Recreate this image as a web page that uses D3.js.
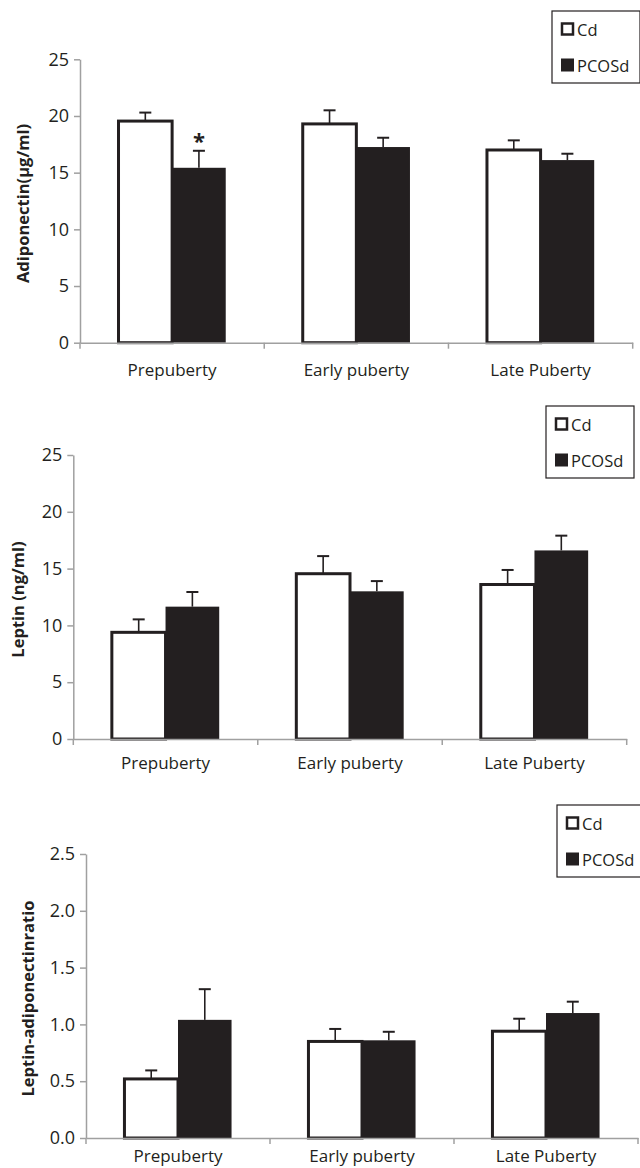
<!DOCTYPE html>
<html>
<head>
<meta charset="utf-8">
<script src="https://cdn.jsdelivr.net/npm/d3@7"></script>
<style>
  body { margin: 0; background: #fff; }
  svg { display: block; }
</style>
</head>
<body>
<div id="chart"></div>
<script>
const categories = ['Prepuberty', 'Early puberty', 'Late Puberty'];
const series = ['Cd', 'PCOSd'];

// adiponectin (µg/ml)
const adipoCd = [19.55, 19.3, 17.0];
const adipoCdErr = [0.75, 1.2, 0.85];
const adipoPcos = [15.43, 17.26, 16.11];
const adipoPcosErr = [1.5, 0.82, 0.56];
const adipoTicks = [0, 5, 10, 15, 20, 25];

// leptin (ng/ml)
const leptinCd = [9.39, 14.55, 13.6];
const leptinCdErr = [1.14, 1.55, 1.28];
const leptinPcos = [11.65, 13.0, 16.6];
const leptinPcosErr = [1.29, 0.9, 1.3];
const leptinTicks = [0, 5, 10, 15, 20, 25];

// leptin-adiponectin ratio
const ratioCd = [0.52, 0.85, 0.94];
const ratioCdErr = [0.075, 0.11, 0.11];
const ratioPcos = [1.04, 0.86, 1.10];
const ratioPcosErr = [0.27, 0.075, 0.10];
const ratioTicks = [0, 0.5, 1.0, 1.5, 2.0, 2.5];

const starred = [{ panel: 0, cat: 'Prepuberty', s: 'PCOSd' }];

const dark = '#231f20';
const axisGrey = '#a0a0a0';
const font = '"Open Sans", sans-serif';

const panels = [
  { title: 'Adiponectin(µg/ml)', cd: adipoCd, cdErr: adipoCdErr, pc: adipoPcos, pcErr: adipoPcosErr,
    ticks: adipoTicks, fmt: d3.format('d'), max: 25,
    left: 80, right: 632.7, top: 59.3, bottom: 342.7, labelPad: 21,
    titleX: 28.5, legend: [552, 11] },
  { title: 'Leptin (ng/ml)', cd: leptinCd, cdErr: leptinCdErr, pc: leptinPcos, pcErr: leptinPcosErr,
    ticks: leptinTicks, fmt: d3.format('d'), max: 25,
    left: 73.3, right: 626.7, top: 455, bottom: 739, labelPad: 18,
    titleX: 23.5, legend: [546, 406] },
  { title: 'Leptin-adiponectinratio', cd: ratioCd, cdErr: ratioCdErr, pc: ratioPcos, pcErr: ratioPcosErr,
    ticks: ratioTicks, fmt: d3.format('.1f'), max: 2.5,
    left: 86, right: 638, top: 854, bottom: 1138, labelPad: 12,
    titleX: 33.5, legend: [557, 805] }
];

const svg = d3.select('#chart')
  .append('svg')
  .attr('width', 640)
  .attr('height', 1168);

panels.forEach((p, pi) => {
  const g = svg.append('g');

  const x = d3.scaleBand()
    .domain(categories)
    .range([p.left, p.right]);

  const groupPad = x.bandwidth() * 0.209;
  const xSub = d3.scaleBand()
    .domain(series)
    .range([groupPad, x.bandwidth() - groupPad]);

  const y = d3.scaleLinear()
    .domain([0, p.max])
    .range([p.bottom, p.top]);

  const rows = [];
  categories.forEach((c, i) => {
    rows.push({ cat: c, s: 'Cd', v: p.cd[i], e: p.cdErr[i] });
    rows.push({ cat: c, s: 'PCOSd', v: p.pc[i], e: p.pcErr[i] });
  });

  //bars
  g.selectAll('rect.bar')
    .data(rows)
    .join('rect')
    .attr('class', 'bar')
    .attr('x', d => x(d.cat) + xSub(d.s))
    .attr('y', d => y(d.v))
    .attr('width', xSub.bandwidth())
    .attr('height', d => y(0) - y(d.v))
    .attr('fill', d => d.s === 'Cd' ? '#fff' : dark)
    .attr('stroke', dark)
    .attr('stroke-width', d => d.s === 'Cd' ? 3 : 0);

  //error bars (upper only)
  const eb = g.selectAll('g.err')
    .data(rows)
    .join('g')
    .attr('class', 'err')
    .attr('transform', d => `translate(${x(d.cat) + xSub(d.s) + xSub.bandwidth() / 2},0)`);
  eb.append('line')
    .attr('x1', 0).attr('x2', 0)
    .attr('y1', d => y(d.v))
    .attr('y2', d => y(d.v + d.e))
    .attr('stroke', dark)
    .attr('stroke-width', 1.6);
  eb.append('line')
    .attr('x1', -6).attr('x2', 6)
    .attr('y1', d => y(d.v + d.e))
    .attr('y2', d => y(d.v + d.e))
    .attr('stroke', dark)
    .attr('stroke-width', 2);

  //significance mark
  starred.filter(s => s.panel === pi).forEach(s => {
    const r = rows.find(d => d.cat === s.cat && d.s === s.s);
    g.append('text')
      .attr('x', x(r.cat) + xSub(r.s) + xSub.bandwidth() / 2)
      .attr('y', y(r.v + r.e) - 2)
      .attr('text-anchor', 'middle')
      .style('font-family', font)
      .style('font-size', '22px')
      .style('font-weight', 'bold')
      .attr('fill', dark)
      .text('*');
  });

  //y-axis
  g.append('g')
    .attr('transform', `translate(${p.left},0)`)
    .call(d3.axisLeft(y)
      .tickValues(p.ticks)
      .tickFormat(p.fmt)
      .tickSize(6)
      .tickSizeOuter(0)
      .tickPadding(5))
    .call(a => a.select('.domain').attr('stroke', axisGrey).attr('stroke-width', 1.5))
    .call(a => a.selectAll('.tick line').attr('stroke', axisGrey).attr('stroke-width', 1.5))
    .call(a => a.selectAll('.tick text')
      .attr('fill', '#231f20')
      .style('font-family', font)
      .style('font-size', '18px'));

  //x-axis line and category labels
  g.append('g')
    .attr('transform', `translate(0,${p.bottom})`)
    .call(d3.axisBottom(x).tickSize(0).tickPadding(p.labelPad))
    .call(a => a.select('.domain').attr('stroke', axisGrey).attr('stroke-width', 1.5))
    .call(a => a.selectAll('.tick text')
      .attr('fill', '#231f20')
      .style('font-family', font)
      .style('font-size', '17px'));

  //x boundary ticks
  const bounds = categories.map(c => x(c)).concat([x(categories[categories.length - 1]) + x.bandwidth()]);
  g.selectAll('line.xtick')
    .data(bounds)
    .join('line')
    .attr('x1', d => d).attr('x2', d => d)
    .attr('y1', p.bottom).attr('y2', p.bottom + 6)
    .attr('stroke', axisGrey)
    .attr('stroke-width', 1.5);

  //y title
  g.append('text')
    .attr('transform', `translate(${p.titleX},${(p.top + p.bottom) / 2 + 2.5}) rotate(-90)`)
    .attr('text-anchor', 'middle')
    .style('font-family', font)
    .style('font-size', '16.5px')
    .style('font-weight', 'bold')
    .attr('fill', dark)
    .text(p.title);

  //legend
  const lg = g.append('g')
    .attr('transform', `translate(${p.legend[0]},${p.legend[1]})`);
  lg.append('rect')
    .attr('x', 0).attr('y', 0)
    .attr('width', 88).attr('height', 72)
    .attr('fill', '#fff')
    .attr('stroke', dark)
    .attr('stroke-width', 1.2);
  const item = lg.selectAll('g.item')
    .data(series)
    .join('g')
    .attr('class', 'item')
    .attr('transform', (d, i) => `translate(9,${18 + i * 36})`);
  item.append('rect')
    .attr('x', d => d === 'Cd' ? 1 : 0)
    .attr('y', d => d === 'Cd' ? -5.5 : -6.5)
    .attr('width', d => d === 'Cd' ? 11 : 13)
    .attr('height', d => d === 'Cd' ? 11 : 13)
    .attr('fill', d => d === 'Cd' ? '#fff' : dark)
    .attr('stroke', dark)
    .attr('stroke-width', d => d === 'Cd' ? 2.5 : 0);
  item.append('text')
    .attr('x', 16)
    .attr('y', 0)
    .attr('dominant-baseline', 'central')
    .style('font-family', font)
    .style('font-size', '16.5px')
    .attr('fill', dark)
    .text(d => d);
});
</script>
</body>
</html>
